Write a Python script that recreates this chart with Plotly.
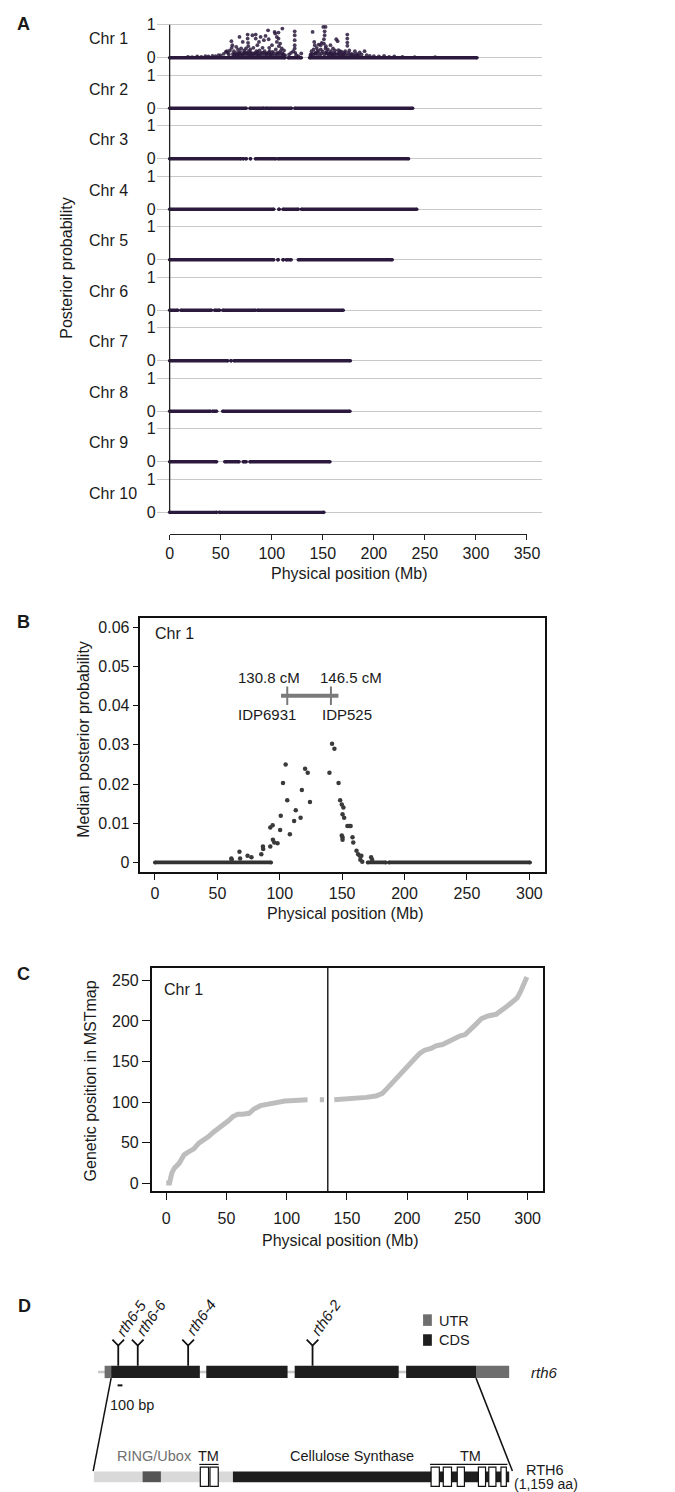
import plotly.graph_objects as go

W, H = 675, 1492
FONT = "Liberation Sans, Arial, sans-serif"
TXT = "#1a1a1a"


def fx(p):
    return p / W


def fy(p):
    return 1 - p / H


# ---------------- Panel A data ----------------
chrom_names = [f"Chr {i}" for i in range(1, 11)]
# runs of markers sitting at posterior ~0 (start Mb, end Mb)
zero_runs = [
    [(0, 113), (116, 129), (137, 301)],
    [(0, 75), (78.6, 92.3), (93.9, 119.3), (122.5, 238)],
    [(0, 70), (72, 72.3), (74.8, 75), (79, 79.3), (84, 104), (106, 234)],
    [(0, 102), (107, 107.3), (111, 126), (129, 242)],
    [(0, 102), (106, 106.3), (111, 111.3), (114, 119), (126, 218)],
    [(0, 8), (11, 41), (44, 49), (52, 84), (86, 170)],
    [(0, 57), (60, 60.3), (63, 177)],
    [(0, 40), (42, 46), (52, 176.6)],
    [(0, 46), (54, 68), (72, 75), (78.6, 157)],
    [(0, 46), (48.7, 151)],
]
chr1_peak_x = [18, 22, 27, 31, 35, 38, 42, 45, 48, 50, 53, 55, 56, 57, 58, 59,
               60.5, 61.4, 60.8, 62, 63, 64, 65.2, 66, 67, 68.4, 68, 69, 70, 71.6, 72, 73, 74.8, 75,
               76.4, 76.4, 76.8, 77, 77.5, 78, 79, 80, 81.1, 82, 83, 84.3, 84.3, 85, 85.9, 86.5, 87.5, 88, 89.1, 90,
               91, 92.3, 93, 93.9, 95, 96.4, 97, 97.5, 98, 99, 100.2, 101, 102.8, 103.4, 104, 105, 105, 105.5,
               106.6, 106.6, 107, 108.2, 108.5, 109.8, 110.4, 111, 112, 113,
               117, 119, 121, 122.5, 122.5, 122.5, 122.5, 122.5, 123, 124, 126, 128.9,
               138, 139, 140, 141, 141.6, 142.2, 143, 144, 145, 146, 147.9, 148, 149, 150.5, 151.8, 151.8, 151.1,
               151.1, 152.7, 152.7, 153, 154, 155, 156, 157.5, 158, 159, 160,
               161, 162, 163.2, 164.5, 165.4, 166, 167, 168.6, 170, 171, 172, 174, 174, 174, 174, 175, 176, 178,
               180, 181.4, 183, 184, 186.1, 188, 190.9, 193, 196, 200, 205, 210, 215, 220, 228, 240, 260]
chr1_peak_y = [0.03, 0.02, 0.04, 0.03, 0.05, 0.04, 0.06, 0.05, 0.08, 0.07, 0.12, 0.18, 0.2, 0.15, 0.1, 0.22,
               0.50, 0.38, 0.3, 0.12, 0.2, 0.08, 0.33, 0.15, 0.25, 0.63, 0.1, 0.18, 0.28, 0.48, 0.12, 0.22, 0.28, 0.15,
               0.70, 0.58, 0.45, 0.35, 0.2, 0.1, 0.25, 0.15, 0.68, 0.3, 0.12, 0.70, 0.58, 0.2, 0.38, 0.1, 0.48, 0.22, 0.63, 0.15,
               0.3, 0.53, 0.2, 0.66, 0.12, 0.83, 0.56, 0.3, 0.2, 0.1, 0.38, 0.18, 0.78, 0.73, 0.25, 0.63, 0.48, 0.15,
               0.76, 0.58, 0.35, 0.43, 0.2, 0.28, 0.88, 0.12, 0.22, 0.08,
               0.1, 0.15, 0.2, 0.80, 0.68, 0.53, 0.38, 0.28, 0.15, 0.08, 0.05, 0.13,
               0.1, 0.2, 0.78, 0.25, 0.48, 0.38, 0.15, 0.3, 0.22, 0.4, 0.38, 0.25, 0.45, 0.93, 0.80, 0.68, 0.56,
               0.43, 0.93, 0.28, 0.35, 0.18, 0.25, 0.12, 0.38, 0.2, 0.1, 0.28,
               0.15, 0.22, 0.56, 0.50, 0.23, 0.12, 0.2, 0.18, 0.1, 0.15, 0.2, 0.70, 0.58, 0.46, 0.36, 0.15, 0.22, 0.12,
               0.1, 0.20, 0.12, 0.08, 0.16, 0.1, 0.20, 0.08, 0.06, 0.05, 0.04, 0.06, 0.03, 0.04, 0.03, 0.02, 0.02]
# dense low-probability mass under the Chr 1 peak
chr1_low_x = [62.5, 64, 65.5, 67, 68.5, 70, 71.5, 73, 74, 75.5, 77, 78.5, 80, 81.5, 83, 84.5, 86, 87, 88.5,
              90, 91.5, 93, 94.5, 96, 97, 98.5, 100, 101.5, 103, 104.5, 106, 107.5, 109, 110.5, 112,
              138, 139.5, 141, 142.5, 144, 145.5, 147, 148.5, 150, 151.5, 153, 154.5, 156, 157.5, 159, 160.5,
              162, 163.5, 165, 166.5, 168, 170, 172, 174.5, 177, 179, 182, 185]
chr1_low_y = [0.08, 0.12, 0.06, 0.1, 0.14, 0.07, 0.11, 0.16, 0.09, 0.13, 0.06, 0.15, 0.1, 0.07, 0.14, 0.11,
              0.17, 0.08, 0.12, 0.06, 0.15, 0.1, 0.13, 0.07, 0.16, 0.11, 0.09, 0.14, 0.06, 0.12, 0.1, 0.15, 0.08,
              0.12, 0.06,
              0.06, 0.12, 0.09, 0.14, 0.11, 0.17, 0.08, 0.13, 0.19, 0.1, 0.15, 0.12, 0.08, 0.14, 0.1, 0.07, 0.12,
              0.09, 0.13, 0.06, 0.1, 0.08, 0.11, 0.07, 0.09, 0.06, 0.05, 0.07]
a_xticks = [0, 50, 100, 150, 200, 250, 300, 350]

# ---------------- Panel B data ----------------
b_zero_runs = [(0, 93), (170.5, 185), (187.5, 300.5)]
b_x = [61.2, 61.5, 67.7, 68.2, 74.2, 77.3, 85.2, 86.5, 86.7, 92.4, 92.4, 94.3, 94.5, 95.6, 98.2, 100.3,
       100.8, 102.6, 104.7, 106.0, 108.1, 111.5, 112.8, 116.7, 117.7, 120.3, 122.4, 124.2, 139.8, 141.9,
       143.8, 147.1, 148.4, 149.7, 150.3, 151.0, 151.6, 149.7, 150.3, 150.3, 154.2, 155.7, 156.8, 158.3,
       158.9, 161.5, 162.8, 164.1, 165.4, 164.6, 166.1, 173.2, 174.0]
b_y = [0.0010, 0.0007, 0.0027, 0.0010, 0.0017, 0.0013, 0.0021, 0.0041, 0.0034, 0.0041, 0.0089, 0.0095,
       0.0058, 0.0051, 0.0049, 0.0083, 0.0119, 0.0203, 0.0250, 0.0159, 0.0072, 0.0106, 0.0133, 0.0114,
       0.0185, 0.0239, 0.0229, 0.0154, 0.0229, 0.0303, 0.0290, 0.0203, 0.0159, 0.0148, 0.0123, 0.0140,
       0.0114, 0.0069, 0.0058, 0.0064, 0.0093, 0.0093, 0.0093, 0.0064, 0.0051, 0.0030, 0.0021, 0.0017,
       0.0017, 0.0007, 0.0002, 0.0013, 0.0007]
b_interval = [101, 147]
b_interval_y = 0.0425
b_markers = [106, 141]
b_marker_cm = ["130.8 cM", "146.5 cM"]
b_marker_names = ["IDP6931", "IDP525"]
b_xticks = [0, 50, 100, 150, 200, 250, 300]
b_yticks = [0, 0.01, 0.02, 0.03, 0.04, 0.05, 0.06]
b_yticktext = ["0", "0.01", "0.02", "0.03", "0.04", "0.05", "0.06"]

# ---------------- Panel C data ----------------
c_segments_x = [
    [0.0, 2.7, 4.6, 6.7, 10.8, 14.8, 18.9, 22.9, 27.0, 31.0, 35.1, 39.1, 43.2, 47.2, 51.3, 55.3, 59.3, 63.4,
     68.8, 72.8, 78.2, 83.6, 90.4, 98.5, 106.6, 117.3],
    [127.5, 131.0],
    [139.5, 145.7, 149.7, 157.8, 165.9, 174.0, 179.4, 183.4, 187.5, 192.9, 198.3, 202.3, 206.4, 210.4,
     214.5, 219.9, 223.9, 229.3, 233.3, 238.7, 244.1, 248.2, 252.2, 257.6, 261.7, 267.1, 273.8, 279.2,
     283.2, 287.3, 291.3, 294.0, 296.7, 299.4],
]
c_segments_y = [
    [0, 0, 12.3, 18.4, 24.6, 34.8, 38.9, 42.2, 49.2, 52.5, 57.4, 62.7, 66.8, 71.7, 76.6, 82.0, 84.8, 84.8,
     86.1, 91.4, 95.5, 97.1, 99.6, 101.2, 102.0, 102.9],
    [102.9, 102.9],
    [102.9, 103.3, 103.3, 103.7, 105.7, 107.4, 110.7, 116.8, 123.0, 131.1, 141.4, 147.5, 153.7, 159.8,
     163.9, 166.0, 169.3, 170.9, 174.2, 178.3, 181.6, 183.2, 189.8, 196.7, 202.9, 206.1, 208.2, 213.1,
     218.4, 223.4, 228.3, 235.7, 243.9, 254.1],
]
c_centromere = 134.1
c_xticks = [0, 50, 100, 150, 200, 250, 300]
c_yticks = [0, 50, 100, 150, 200, 250]

# ---------------- Panel D data ----------------
utr_bp = [(0, 134), (7620, 8300)]
exon_bp = [(134, 1954), (2086, 3754), (3900, 6034), (6186, 7620)]
gene_span_bp = (-134, 8300)
mutation_names = ["rth6-5", "rth6-6", "rth6-4", "rth6-2"]
mutation_bp = [280, 680, 1714, 4266]
scale_bar_bp = 100
protein_len = 1159
cellulose_aa = (388, 1159)
ring_aa = (136, 187)
tm_left_aa = [(297, 320), (324, 347)]
tm_right_aa = [(941, 964), (975, 998), (1014, 1034), (1073, 1093), (1102, 1122), (1136, 1151)]

fig = go.Figure()

# ======== Panel A ========
S = 1.524  # row spacing in y units
for k, runs in enumerate(zero_runs):
    xs, ys = [], []
    for a, b in runs:
        xs += [a, b, None]
        ys += [-k * S, -k * S, None]
    fig.add_trace(go.Scatter(x=xs, y=ys, mode="lines+markers", xaxis="x", yaxis="y",
                             line=dict(color="#2b1a3d", width=3.4),
                             marker=dict(size=3.6, color="#2b1a3d"),
                             hoverinfo="skip", showlegend=False))
fig.add_trace(go.Scatter(x=chr1_low_x, y=chr1_low_y, mode="markers", xaxis="x", yaxis="y",
                         marker=dict(size=3.8, color="rgba(43,26,61,0.85)"),
                         hoverinfo="skip", showlegend=False))
fig.add_trace(go.Scatter(x=chr1_peak_x, y=chr1_peak_y, mode="markers", xaxis="x", yaxis="y",
                         marker=dict(size=3.8, color="rgba(43,26,61,0.85)"),
                         hoverinfo="skip", showlegend=False))
fig.add_trace(go.Scatter(x=[0], y=[0], mode="markers", xaxis="x2", yaxis="y2",
                         marker=dict(opacity=0), hoverinfo="skip", showlegend=False))

a_tickvals, a_ticktext = [], []
for k in range(10):
    a_tickvals += [-k * S, -k * S + 1]
    a_ticktext += ["0", "1"]

# ======== Panel B ========
xs, ys = [], []
for a, b in b_zero_runs:
    xs += [a, b, None]
    ys += [0, 0, None]
fig.add_trace(go.Scatter(x=xs, y=ys, mode="lines+markers", xaxis="x3", yaxis="y3",
                         line=dict(color="#333333", width=3.8), marker=dict(size=4, color="#333333"),
                         hoverinfo="skip", showlegend=False))
fig.add_trace(go.Scatter(x=b_x, y=b_y, mode="markers", xaxis="x3", yaxis="y3",
                         marker=dict(size=4.5, color="#3a3a3a"), hoverinfo="skip", showlegend=False))
fig.add_trace(go.Scatter(x=b_interval, y=[b_interval_y] * 2, mode="lines", xaxis="x3", yaxis="y3",
                         line=dict(color="#7a7a7a", width=4), hoverinfo="skip", showlegend=False))
for m in b_markers:
    fig.add_trace(go.Scatter(x=[m, m], y=[b_interval_y - 0.0023, b_interval_y + 0.0024], mode="lines",
                             xaxis="x3", yaxis="y3", line=dict(color="#7a7a7a", width=2),
                             hoverinfo="skip", showlegend=False))

# ======== Panel C ========
xs, ys = [], []
for sx, sy in zip(c_segments_x, c_segments_y):
    xs += sx + [None]
    ys += sy + [None]
fig.add_trace(go.Scatter(x=xs, y=ys, mode="lines", xaxis="x4", yaxis="y4",
                         line=dict(color="#bdbdbd", width=5), hoverinfo="skip", showlegend=False))

# ======== Panel D (dummy traces for axes) ========
fig.add_trace(go.Scatter(x=[0], y=[1400], mode="markers", xaxis="x5", yaxis="y5",
                         marker=dict(opacity=0), hoverinfo="skip", showlegend=False))
fig.add_trace(go.Scatter(x=[0], y=[1400], mode="markers", xaxis="x6", yaxis="y5",
                         marker=dict(opacity=0), hoverinfo="skip", showlegend=False))

shapes = []
annotations = []


def ann(text, x, y, size=16, xanchor="center", yanchor="middle", color=TXT, angle=0, xref="paper",
        yref="paper", bold=False, xshift=0, yshift=0):
    annotations.append(dict(text=text, x=x, y=y, xref=xref, yref=yref, showarrow=False,
                            xanchor=xanchor, yanchor=yanchor, textangle=angle, xshift=xshift, yshift=yshift,
                            font=dict(family=FONT, size=size, color=color,
                                      weight="bold" if bold else "normal")))


# Panel letters
ann("A", fx(3), fy(12), 18, xanchor="left", bold=True)
ann("B", fx(3), fy(612), 18, xanchor="left", bold=True)
ann("C", fx(3), fy(965), 18, xanchor="left", bold=True)
ann("D", fx(4), fy(1298), 18, xanchor="left", bold=True)

# Panel A annotations
for k, name in enumerate(chrom_names):
    ann(name, fx(77), fy(46 + k * 50.72 - 19.4), 16, xanchor="left")
ann("Posterior probability", fx(56), fy(257), 16, angle=-90)
ann("Physical position (Mb)", fx(346), fy(563), 16)
shapes.append(dict(type="line", xref="x", yref="y", x0=0, x1=0, y0=-9 * S, y1=1,
                   line=dict(color="#222222", width=1.3), layer="above"))

# Panel B annotations
ann("Chr 1", -1.3, 0.0583, 16, xanchor="left", xref="x3", yref="y3")
ann(b_marker_cm[0], b_markers[0] - 15, 0.0471, 15, xref="x3", yref="y3")
ann(b_marker_cm[1], b_markers[1] + 16, 0.0471, 15, xref="x3", yref="y3")
ann(b_marker_names[0], b_markers[0] - 16, 0.0377, 15, xref="x3", yref="y3")
ann(b_marker_names[1], b_markers[1] + 12.5, 0.0377, 15, xref="x3", yref="y3")
ann("Median posterior probability", fx(73), fy(730), 16, angle=-90)
ann("Physical position (Mb)", fx(342), fy(905), 16)

# Panel C annotations
ann("Chr 1", fx(154), fy(981), 16, xanchor="left")
ann("Genetic position in MSTmap", fx(80), fy(1072), 16, angle=-90)
ann("Physical position (Mb)", fx(337), fy(1233), 16)
shapes.append(dict(type="line", xref="x4", yref="y4 domain", x0=c_centromere, x1=c_centromere, y0=0, y1=1,
                   line=dict(color="#111111", width=1.4)))

# ======== Panel D drawing ========
GY = 1364.5     # gene centre line (px)
GH = 6.2        # half height of exon boxes
PY = 1469.7     # protein centre (px)
PH = 5.4
TH = 9.7
bp_per_px = 20.0
aa_px = 0.3676


def aa_to_bp(aa):
    # protein drawn with its own axis; convert for connector lines
    return ((84 + aa * aa_px) - 95) * bp_per_px


shapes.append(dict(type="line", xref="x5", yref="y5", x0=gene_span_bp[0], x1=gene_span_bp[1], y0=GY, y1=GY,
                   line=dict(color="#c8c8c8", width=2.5), layer="below"))
for a, b in utr_bp:
    shapes.append(dict(type="rect", xref="x5", yref="y5", x0=a, x1=b, y0=GY - GH, y1=GY + GH,
                       fillcolor="#6e6e6e", line=dict(width=0)))
for a, b in exon_bp:
    shapes.append(dict(type="rect", xref="x5", yref="y5", x0=a, x1=b, y0=GY - GH, y1=GY + GH,
                       fillcolor="#1e1e1e", line=dict(width=0)))
for name, m in zip(mutation_names, mutation_bp):
    shapes.append(dict(type="line", xref="x5", yref="y5", x0=m, x1=m, y0=GY - GH, y1=1338,
                       line=dict(color="#111111", width=1.8)))
    shapes.append(dict(type="path", xref="x5", yref="y5",
                       path=f"M {m - 120} 1332 L {m} 1338 L {m + 120} 1332",
                       line=dict(color="#111111", width=1.8)))
    annotations.append(dict(text=f"<i>{name}</i>", x=m, y=1334, xref="x5", yref="y5", showarrow=False,
                            xanchor="left", yanchor="bottom", textangle=-55, xshift=-8,
                            font=dict(family=FONT, size=15, color=TXT)))
# scale bar
shapes.append(dict(type="line", xref="x5", yref="y5", x0=266, x1=266 + scale_bar_bp, y0=1378, y1=1378,
                   line=dict(color="#111111", width=2)))
ann("100 bp", fx(123), fy(1398), 14.5)
ann("<i>rth6</i>", fx(530), fy(1365), 15, xanchor="left")
# legend
shapes.append(dict(type="rect", xref="paper", yref="paper", x0=fx(421.7), x1=fx(430.7), y0=fy(1318.3),
                   y1=fy(1306.7), fillcolor="#6e6e6e", line=dict(width=0)))
shapes.append(dict(type="rect", xref="paper", yref="paper", x0=fx(421.7), x1=fx(430.7), y0=fy(1338.3),
                   y1=fy(1326.7), fillcolor="#1e1e1e", line=dict(width=0)))
ann("UTR", fx(436), fy(1313), 14.5, xanchor="left")
ann("CDS", fx(436), fy(1332.5), 14.5, xanchor="left")

# connectors
shapes.append(dict(type="line", xref="x5", yref="y5", x0=exon_bp[0][0], x1=aa_to_bp(-2), y0=GY + GH, y1=1464,
                   line=dict(color="#111111", width=1.5)))
shapes.append(dict(type="line", xref="x5", yref="y5", x0=exon_bp[-1][1], x1=aa_to_bp(protein_len + 9),
                   y0=GY + GH, y1=1464, line=dict(color="#111111", width=1.5)))

# protein
shapes.append(dict(type="rect", xref="x6", yref="y5", x0=0, x1=cellulose_aa[0], y0=PY - PH, y1=PY + PH,
                   fillcolor="#d9d9d9", line=dict(width=0)))
shapes.append(dict(type="rect", xref="x6", yref="y5", x0=ring_aa[0], x1=ring_aa[1], y0=PY - PH, y1=PY + PH,
                   fillcolor="#555555", line=dict(width=0)))
shapes.append(dict(type="rect", xref="x6", yref="y5", x0=cellulose_aa[0], x1=cellulose_aa[1], y0=PY - PH,
                   y1=PY + PH, fillcolor="#1e1e1e", line=dict(width=0)))
for a, b in tm_left_aa + tm_right_aa:
    shapes.append(dict(type="rect", xref="x6", yref="y5", x0=a, x1=b, y0=PY - TH, y1=PY + TH,
                       fillcolor="white", line=dict(color="#111111", width=1.2)))
shapes.append(dict(type="line", xref="x6", yref="y5", x0=tm_left_aa[0][0] - 3, x1=tm_left_aa[-1][1] + 1,
                   y0=1457.3, y1=1457.3, line=dict(color="#111111", width=1.2)))
shapes.append(dict(type="line", xref="x6", yref="y5", x0=tm_right_aa[0][0] - 3, x1=tm_right_aa[-1][1] + 3,
                   y0=1457.3, y1=1457.3, line=dict(color="#111111", width=1.2)))
ann("RING/Ubox", fx(146.3), fy(1449), 14.5, color="#707070")
ann("TM", fx(201.7), fy(1449), 14.5)
ann("Cellulose Synthase", fx(348.3), fy(1449), 14.5)
ann("TM", fx(470), fy(1449), 14.5)
ann("RTH6", fx(547), fy(1463), 14.5)
ann("(1,159 aa)", fx(548), fy(1476.5), 14)

axis_common = dict(showgrid=False, zeroline=False, tickfont=dict(family=FONT, size=16, color=TXT))

fig.update_layout(
    width=W, height=H, margin=dict(l=0, r=0, t=0, b=0),
    paper_bgcolor="white", plot_bgcolor="rgba(0,0,0,0)",
    font=dict(family=FONT, color=TXT),
    shapes=shapes, annotations=annotations, showlegend=False,
    # Panel A grid axes
    xaxis=dict(domain=[fx(148.3), fx(543.3)], range=[-12.8, 364.3], visible=False, anchor="y"),
    yaxis=dict(domain=[fy(510), fy(8)], range=[-9 * S - 8 / 33.3, 1 + 4.7 / 33.3], anchor="x",
               tickvals=a_tickvals, ticktext=a_ticktext, showgrid=True, gridcolor="#c9c9c9", gridwidth=1.2,
               zeroline=False, showline=False, ticks="", tickfont=dict(family=FONT, size=16, color=TXT)),
    # Panel A x axis
    xaxis2=dict(domain=[fx(161.7), fx(528.3)], range=[0, 350], anchor="y2", tickvals=a_xticks,
                showline=True, linecolor="#222222", linewidth=1.3, ticks="outside", ticklen=5,
                tickcolor="#222222", tickwidth=1.3, **axis_common),
    yaxis2=dict(domain=[fy(523.3), fy(521)], range=[0, 1], visible=False, anchor="x2"),
    # Panel B
    xaxis3=dict(domain=[fx(131.7), fx(546.7)], range=[-11.7, 312.5], anchor="y3", tickvals=b_xticks,
                showline=True, mirror=True, linecolor="#111111", linewidth=1.5, ticks="outside", ticklen=6,
                tickcolor="#111111", tickwidth=1.3, **axis_common),
    yaxis3=dict(domain=[fy(863.3), fy(608.3)], range=[-0.00254, 0.0623], anchor="x3", tickvals=b_yticks,
                ticktext=b_yticktext, showline=True, mirror=True, linecolor="#111111", linewidth=1.5,
                ticks="outside", ticklen=6, tickcolor="#111111", tickwidth=1.3, **axis_common),
    # Panel C
    xaxis4=dict(domain=[fx(143.3), fx(545)], range=[-12.1, 313], anchor="y4", tickvals=c_xticks,
                showline=True, mirror=True, linecolor="#111111", linewidth=1.5, ticks="outside", ticklen=7,
                ticklabelstandoff=5, tickcolor="#111111", tickwidth=1.3, **axis_common),
    yaxis4=dict(domain=[fy(1183.3), fy(959.3)], range=[-10.2, 265.2], anchor="x4", tickvals=c_yticks,
                showline=True, mirror=True, linecolor="#111111", linewidth=1.5, ticks="outside", ticklen=8,
                tickcolor="#111111", tickwidth=1.3, **axis_common),
    # Panel D
    xaxis5=dict(domain=[0, 1], range=[-95 * bp_per_px, (W - 95) * bp_per_px], anchor="y5", visible=False),
    xaxis6=dict(domain=[0, 1], range=[-84 / aa_px, (W - 84) / aa_px], anchor="y5", overlaying="x5",
                visible=False),
    yaxis5=dict(domain=[0, fy(1262)], range=[H, 1262], anchor="x5", visible=False),
)

fig.write_html("out.html")
